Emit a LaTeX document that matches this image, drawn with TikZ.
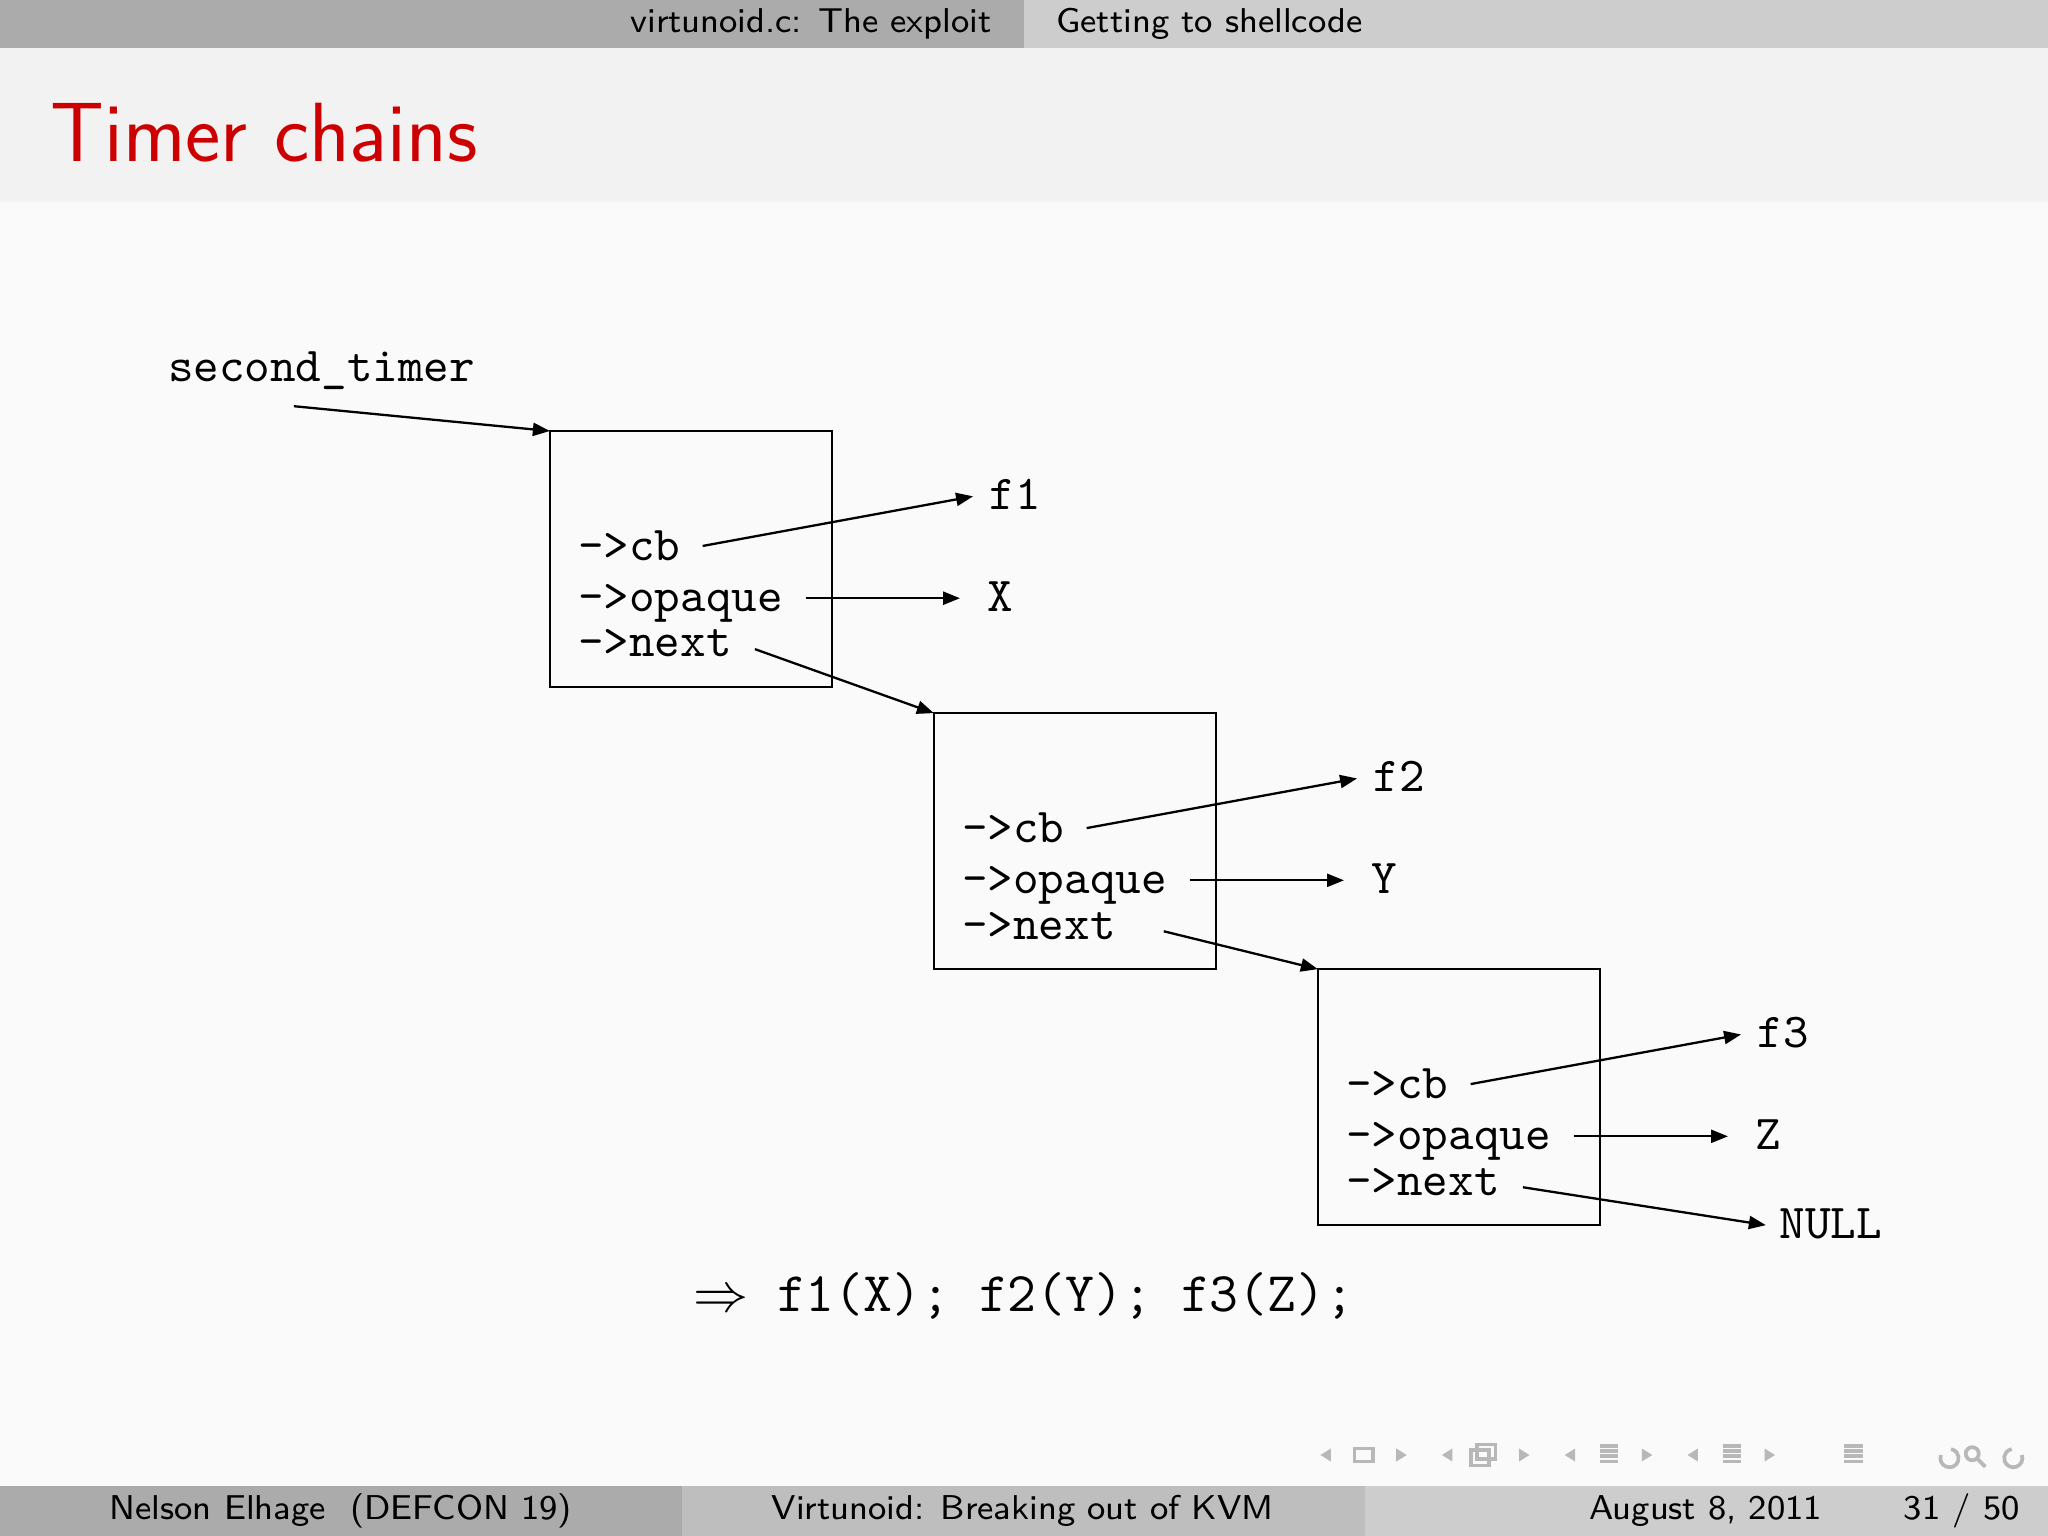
\documentclass[tikz,border=0pt]{standalone}
\usepackage{fontspec}
\usetikzlibrary{arrows.meta}
\definecolor{barA}{HTML}{ABABAB}
\definecolor{barB}{HTML}{CDCDCD}
\definecolor{barC}{HTML}{BEBEBE}
\definecolor{titlebg}{HTML}{F2F2F2}
\definecolor{titlered}{HTML}{CC0000}
\definecolor{navgray}{HTML}{B8B8B8}
\begin{document}
\begin{tikzpicture}[x=0.01cm,y=-0.01cm,
  mono/.style={font=\fontsize{10.6}{11}\ttfamily, anchor=base west, inner sep=0},
  hdr/.style={font=\fontsize{7.5}{8}\sffamily, inner sep=0},
  rec/.style={draw, line width=0.5pt},
  ptr/.style={-{Triangle[length=0.13cm,width=0.1cm]}, line width=0.5pt}]
\fill[white!98!black] (0,0) rectangle (1568,1176);
\useasboundingbox (0,0) rectangle (1568,1176);
% top bar
\fill[barA] (0,0) rectangle (784,37);
\fill[barB] (784,0) rectangle (1568,37);
\node[hdr, anchor=east] (h1) at (760,18) {virtunoid.c: The exploit};
\node[hdr, anchor=west] (h2) at (808,18) {Getting to shellcode};
% title
\fill[titlebg] (0,37) rectangle (1568,155);
\node[font=\fontsize{18.3}{20}\sffamily, text=titlered, anchor=base west, inner sep=0] (title) at (38,124) {Timer chains};
% footer
\fill[barA] (0,1138) rectangle (522,1176);
\fill[barC] (522,1138) rectangle (1045,1176);
\fill[barB] (1045,1138) rectangle (1568,1176);
\node[hdr] (f1t) at (261,1157) {Nelson Elhage\ \ (DEFCON 19)};
\node[hdr] (f2t) at (783,1157) {Virtunoid: Breaking out of KVM};
\node[hdr] (f3t) at (1306,1157) {August 8, 2011};
\node[hdr] (f4t) at (1502,1157) {31 / 50};
% nav icons (approximate)
\begin{scope}[navgray, line width=0.8pt]
\foreach \x in {1015,1108,1202,1296}{\fill (\x-4,1114) -- (\x+4,1109) -- (\x+4,1119) -- cycle;}
\foreach \x in {1073,1167,1261,1355}{\fill (\x+4,1114) -- (\x-4,1109) -- (\x-4,1119) -- cycle;}
\draw (1037,1109) rectangle (1051,1119);
\draw (1126,1110) rectangle (1140,1122); \draw (1131,1106) rectangle (1145,1117);
\foreach \x in {1232,1326,1419}{\foreach \d in {0,4,8,12}{\draw (\x-7,1107+\d) -- (\x+7,1107+\d);}}
\draw (1486,1114) arc (200:-80:7); \draw (1510,1113) circle (5); \draw (1514,1117) -- (1520,1123);
\draw (1548,1114) arc (-20:260:7);
\end{scope}
% diagram
\node[mono] (st) at (128,292) {second\_timer};
\coordinate (st0) at (225,311);
\foreach \i/\dx/\dy/\f/\o in {1/0/0/f1/X, 2/294/216/f2/Y, 3/588/412/f3/Z}{
  \draw[rec] (421+\dx,330+\dy) rectangle (637+\dx,526+\dy);
  \coordinate (box\i) at (421+\dx,330+\dy);
  \node[mono] (cb\i) at (442+\dx,429+\dy) {->cb};
  \node[mono] (op\i) at (442+\dx,468+\dy) {->opaque};
  \node[mono] (nx\i) at (442+\dx,503+\dy) {->next};
  \node[mono] (fn\i) at (757+\dx,390+\dy) {\f};
  \node[mono] (ob\i) at (755+\dx,468+\dy) {\o};
  \draw[ptr] (538+\dx,418+\dy) -- (745+\dx,380+\dy);
  \draw[ptr] (617+\dx,458+\dy) -- (735+\dx,458+\dy);
}
\draw[ptr] (st0) -- (box1);
\draw[ptr] (578,497) -- (box2);
\draw[ptr] (891,713) -- (box3);
\node[mono] (null) at (1362,948) {NULL};
\draw[ptr] (1166,909) -- (1352,938);
\node[font=\fontsize{12.2}{13}\ttfamily, anchor=base west, inner sep=0] (res) at (530,1004) {$\Rightarrow$ f1(X); f2(Y); f3(Z);};
\end{tikzpicture}
\end{document}
